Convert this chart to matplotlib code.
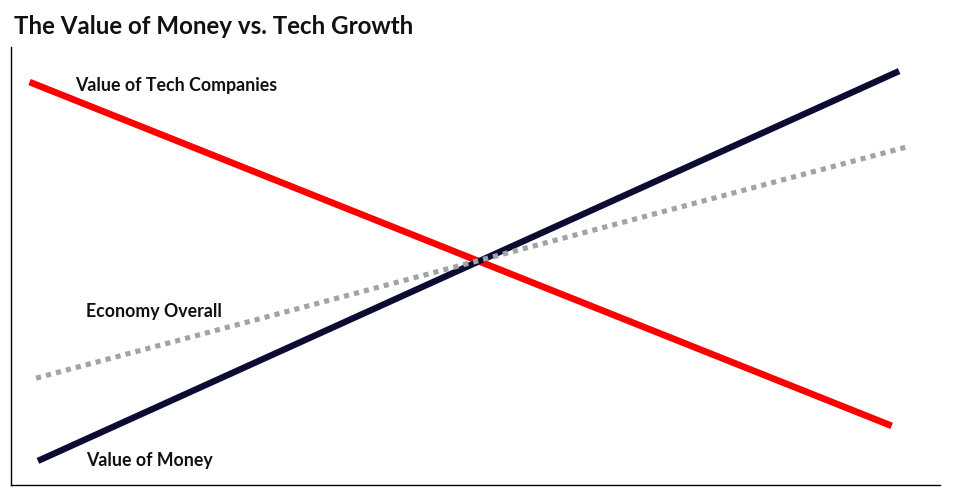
import matplotlib.pyplot as plt

# endpoints of each line, in chart units (0-100 on both axes)
x_tech = [2.0, 94.8]
y_tech = [92.0, 13.5]
x_money = [2.9, 95.6]
y_money = [5.5, 94.5]
x_economy = [2.7, 96.8]
y_economy = [24.4, 77.4]

title = 'The Value of Money vs. Tech Growth'
labels = ['Value of Tech Companies', 'Economy Overall', 'Value of Money']

plt.rcParams['font.family'] = ['Lato', 'DejaVu Sans']

fig = plt.figure(figsize=(9.57, 4.92), dpi=100)
ax = fig.add_axes([11 / 957, 7 / 492, 929 / 957, 438 / 492])

ax.plot(x_tech, y_tech, color='#ff0000', linewidth=4.8, solid_capstyle='butt')
ax.plot(x_money, y_money, color='#0c0c33', linewidth=4.6, solid_capstyle='butt')
ax.plot(x_economy, y_economy, color='#a0a4a3', linewidth=3.7,
        linestyle=(0, (1, 1)), dash_capstyle='butt')

ax.set_xlim(0, 100)
ax.set_ylim(0, 100)
ax.set_xticks([])
ax.set_yticks([])
ax.spines['top'].set_visible(False)
ax.spines['right'].set_visible(False)
ax.spines['left'].set_linewidth(1.0)
ax.spines['bottom'].set_linewidth(1.0)

ax.text(6.9, 91.3, labels[0], fontsize=12.8, fontweight='bold', va='center', color='#111111')
ax.text(8.1, 39.7, labels[1], fontsize=12.8, fontweight='bold', va='center', color='#111111')
ax.text(8.1, 5.5, labels[2], fontsize=12.8, fontweight='bold', va='center', color='#111111')

fig.text(14 / 957, 1 - 27 / 492, title, fontsize=17.4, fontweight='bold', va='center', color='#111111')

fig.savefig('out.png', dpi=100)
